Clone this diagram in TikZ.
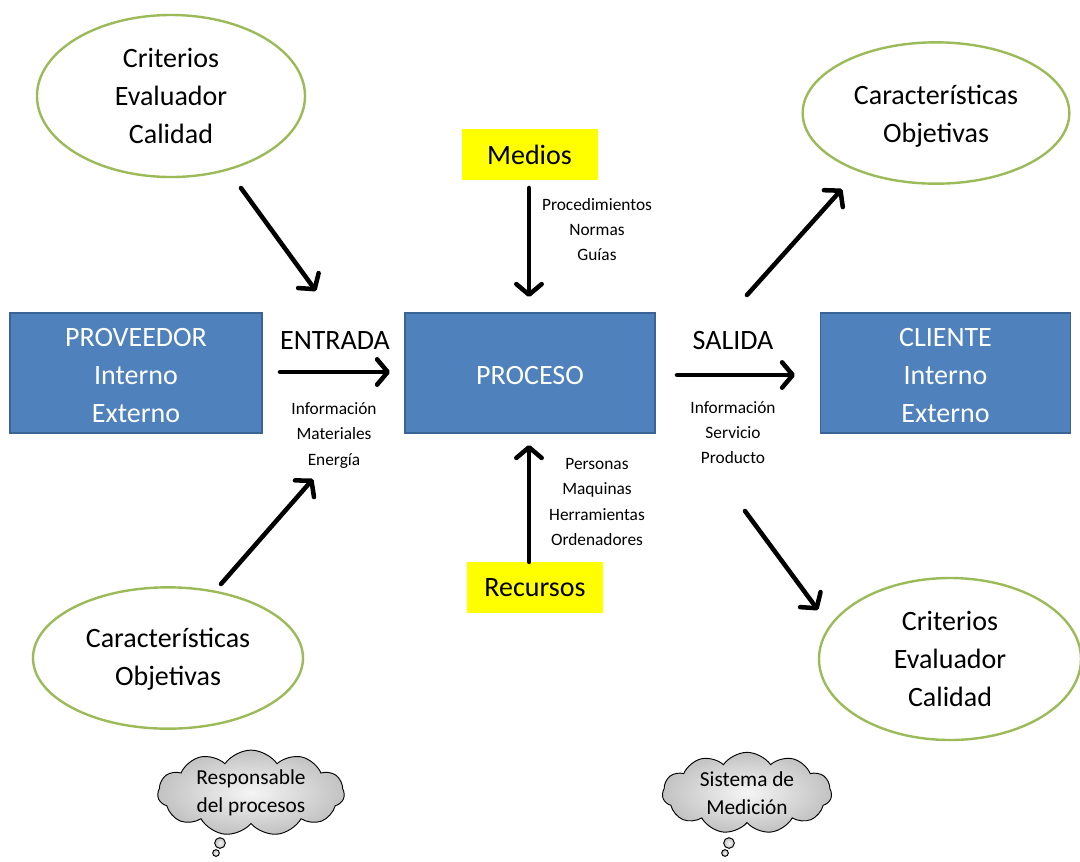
\documentclass[tikz,border=0pt]{standalone}
\usepackage{fontspec}
\setmainfont{Carlito}
\usetikzlibrary{arrows.meta,shapes.geometric,shapes.symbols}

\definecolor{boxblue}{HTML}{4F81BD}
\definecolor{boxedge}{HTML}{3A6496}
\definecolor{ovalgreen}{HTML}{9BBB59}
\definecolor{marker}{HTML}{FFFF00}

\tikzset{
  bigtext/.style={font=\fontsize{21}{28.5}\selectfont, align=center},
  smalltext/.style={font=\fontsize{13}{19}\selectfont, align=center, inner sep=0pt},
  bluebox/.style={draw=boxedge, line width=0.8pt, fill=boxblue, minimum height=90pt, inner sep=0pt},
  boxtext/.style={bigtext, text=white, inner sep=0pt},
  yellowbox/.style={fill=marker, bigtext, minimum width=102pt, minimum height=38pt, inner sep=0pt},
  oval/.style={ellipse, draw=ovalgreen, line width=1.8pt, bigtext, inner sep=0pt},
  thought/.style={cloud, cloud puffs=11, cloud puff arc=110, aspect=2.4, draw=black, line width=0.7pt,
    shading=radial, inner color=gray!8, outer color=gray!48,
    font=\fontsize{16}{21}\selectfont, align=center, inner sep=0pt},
  bubble/.style={circle, draw=black, line width=0.7pt, shading=radial, inner color=gray!8,
    outer color=gray!48, inner sep=0pt},
  flow/.style={line width=3.4pt, -{Straight Barb[length=8pt, width=19pt, line cap=round, line join=round]}, line cap=round}
}

\begin{document}
\begin{tikzpicture}[x=0.75pt, y=-0.75pt]
  \useasboundingbox (0,0) rectangle (1080,861);

  % main chain: supplier, process, customer
  \node[bluebox, minimum width=189pt] (prov) at (136,373) {};
  \node[boxtext] (provtxt) at (136,375.5) {PROVEEDOR\\Interno\\Externo};
  \node[bluebox, minimum width=187.5pt] (proc) at (530,373) {};
  \node[boxtext] (proctxt) at (530,375.5) {PROCESO};
  \node[bluebox, minimum width=188pt] (cli) at (945.5,373) {};
  \node[boxtext] (clitxt) at (945.5,375.5) {CLIENTE\\Interno\\Externo};

  % input and output labels
  \node[bigtext] (entrada) at (335,341) {ENTRADA};
  \node[bigtext] (salida) at (733,341) {SALIDA};
  \node[smalltext] (inlist) at (334,435.5) {Información\\Materiales\\Energía};
  \node[smalltext] (outlist) at (733,432.5) {Información\\Servicio\\Producto};

  \coordinate (inS) at (280,372);
  \coordinate (inE) at (390,372);
  \coordinate (outS) at (677,375);
  \coordinate (outE) at (795,375);
  \draw[flow] (inS) -- (inE);
  \draw[flow] (outS) -- (outE);

  % means and resources
  \node[yellowbox] (medios) at (529.5,154.5) {Medios};
  \node[yellowbox] (recursos) at (535,587.5) {Recursos};
  \node[smalltext] (mlist) at (597,229.5) {Procedimientos\\Normas\\Guías};
  \node[smalltext] (rlist) at (597,502) {Personas\\Maquinas\\Herramientas\\Ordenadores};

  \coordinate (medS) at (529,188);
  \coordinate (medE) at (529,297);
  \coordinate (recE) at (529,445);
  \draw[flow] (medS) -- (medE);
  \draw[flow] (recursos.north -| recE) -- (recE);

  % criteria and characteristics ovals
  \node[oval, minimum width=201pt, minimum height=121.5pt] (critIn) at (171,96) {Criterios\\Evaluador\\Calidad};
  \node[oval, minimum width=202.5pt, minimum height=106pt] (carIn) at (168,658) {};
  \node[bigtext, inner sep=0pt] (carIntxt) at (168,659.5) {Características\\Objetivas};
  \node[oval, minimum width=200pt, minimum height=106pt] (carOut) at (936,113) {};
  \node[bigtext, inner sep=0pt] (carOuttxt) at (936,116) {Características\\Objetivas};
  \node[oval, minimum width=196.5pt, minimum height=121.5pt] (critOut) at (950,659) {Criterios\\Evaluador\\Calidad};

  \coordinate (c1s) at (241,188);
  \coordinate (c1e) at (316,291);
  \coordinate (c2s) at (221,584);
  \coordinate (c2e) at (313,479);
  \coordinate (c3s) at (747,295);
  \coordinate (c3e) at (842,189);
  \coordinate (c4s) at (745,511);
  \coordinate (c4e) at (818,610);
  \draw[flow] (c1s) -- (c1e);
  \draw[flow] (c2s) -- (c2e);
  \draw[flow] (c3s) -- (c3e);
  \draw[flow] (c4s) -- (c4e);

  % thought clouds
  \node[thought, minimum width=140pt, minimum height=61pt] (resp) at (251,793) {Responsable\\del procesos};
  \node[bubble, minimum size=8pt] (respb1) at (220,843) {};
  \node[bubble, minimum size=5pt] (respb2) at (216,853) {};

  \node[thought, minimum width=127pt, minimum height=61pt] (med) at (747,793) {Sistema de\\Medición};
  \node[bubble, minimum size=8pt] (medb1) at (729,843) {};
  \node[bubble, minimum size=5pt] (medb2) at (725,853) {};
\end{tikzpicture}
\end{document}
